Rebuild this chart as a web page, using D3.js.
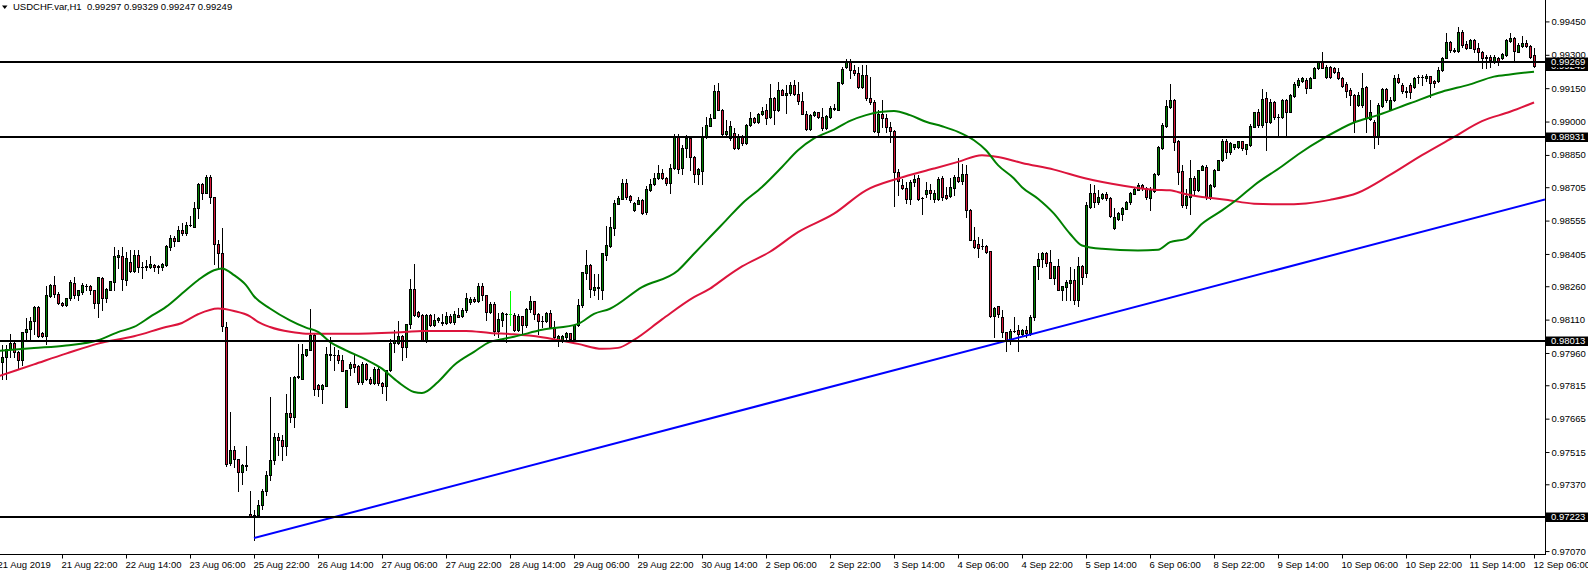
<!DOCTYPE html>
<html><head><meta charset="utf-8">
<script src="https://cdn.jsdelivr.net/npm/d3@7"></script>
<style>
html,body{margin:0;padding:0;background:#fff;overflow:hidden}
svg{display:block}
</style></head><body>
<svg id="chart" width="1588" height="571"></svg>
<script>
// ---- DATA (USDCHF H1) ----
const barOpen = [
0.97942,0.97920,0.97942,0.97977,0.98005,0.97965,0.97930,0.98056,0.98070,0.98103,
0.98167,0.98049,0.98037,0.98215,0.98265,0.98227,0.98185,0.98177,0.98205,0.98275,
0.98220,0.98235,0.98262,0.98260,0.98242,0.98185,0.98299,0.98209,0.98245,0.98280,
0.98392,0.98397,0.98287,0.98367,0.98329,0.98402,0.98347,0.98347,0.98347,0.98355,
0.98347,0.98347,0.98355,0.98437,0.98475,0.98464,0.98512,0.98500,0.98533,0.98527,
0.98610,0.98719,0.98677,0.98749,0.98659,0.98452,0.98410,0.98077,0.97465,0.97522,
0.97482,0.97425,0.97455,0.97237,0.97225,0.97230,0.97277,0.97340,0.97410,0.97480,
0.97582,0.97567,0.97540,0.97689,0.97672,0.97852,0.97845,0.97952,0.97975,0.98042,
0.97815,0.97800,0.97812,0.97954,0.97952,0.97950,0.97927,0.97717,0.97894,0.97912,
0.97900,0.97830,0.97912,0.97845,0.97825,0.97890,0.97825,0.97812,0.97882,0.98005,
0.98005,0.98035,0.97987,0.98089,0.98247,0.98145,0.98130,0.98014,0.98130,0.98085,
0.98107,0.98100,0.98095,0.98128,0.98100,0.98130,0.98125,0.98152,0.98190,0.98204,
0.98192,0.98260,0.98220,0.98142,0.98179,0.98059,0.98110,0.98137,0.98134,0.98130,
0.98064,0.98124,0.98084,0.98159,0.98193,0.98136,0.98106,0.98103,0.98139,0.98076,
0.98016,0.98016,0.98031,0.98049,0.98024,0.98084,0.98177,0.98319,0.98354,0.98244,
0.98256,0.98244,0.98399,0.98439,0.98523,0.98631,0.98654,0.98724,0.98664,0.98604,
0.98631,0.98646,0.98594,0.98691,0.98718,0.98746,0.98770,0.98746,0.98724,0.98793,
0.98931,0.98790,0.98880,0.98928,0.98841,0.98763,0.98778,0.98931,0.98981,0.99018,
0.99138,0.99054,0.98946,0.98924,0.98949,0.98883,0.98934,0.98905,0.98984,0.99018,
0.98999,0.99033,0.99051,0.99021,0.99108,0.99051,0.99141,0.99121,0.99129,0.99163,
0.99123,0.99093,0.99036,0.98968,0.99028,0.99042,0.99021,0.98970,0.99021,0.99063,
0.99054,0.99174,0.99243,0.99271,0.99231,0.99219,0.99156,0.99209,0.99104,0.99089,
0.98954,0.99036,0.99014,0.98976,0.98958,0.98774,0.98714,0.98703,0.98654,0.98729,
0.98746,0.98658,0.98676,0.98691,0.98654,0.98654,0.98746,0.98669,0.98664,0.98703,
0.98751,0.98733,0.98763,0.98601,0.98469,0.98448,0.98443,0.98443,0.98418,0.98128,
0.98169,0.98121,0.98054,0.98019,0.98061,0.98064,0.98046,0.98064,0.98050,0.98120,
0.98353,0.98383,0.98409,0.98367,0.98298,0.98349,0.98241,0.98256,0.98274,0.98286,
0.98196,0.98353,0.98319,0.98616,0.98681,0.98638,0.98658,0.98676,0.98658,0.98520,
0.98564,0.98586,0.98608,0.98638,0.98676,0.98694,0.98713,0.98703,0.98658,0.98688,
0.98763,0.98883,0.98979,0.99066,0.99096,0.98913,0.98778,0.98623,0.98661,0.98748,
0.98691,0.98784,0.98796,0.98658,0.98709,0.98784,0.98826,0.98911,0.98863,0.98886,
0.98886,0.98911,0.98876,0.98894,0.98976,0.99041,0.98984,0.99108,0.98998,0.99088,
0.99021,0.99021,0.99096,0.99044,0.99116,0.99164,0.99182,0.99187,0.99152,0.99197,
0.99239,0.99266,0.99202,0.99247,0.99239,0.99224,0.99197,0.99167,0.99142,0.99119,
0.99074,0.99074,0.99157,0.99011,0.98999,0.98931,0.99071,0.99146,0.99056,0.99096,
0.99194,0.99164,0.99137,0.99164,0.99157,0.99200,0.99202,0.99194,0.99205,0.99182,
0.99182,0.99231,0.99284,0.99356,0.99321,0.99317,0.99404,0.99347,0.99332,0.99366,
0.99329,0.99311,0.99284,0.99291,0.99269,0.99287,0.99284,0.99299,0.99362,0.99377,
0.99314,0.99341,0.99351,0.99341,0.99297];
const barHigh = [
0.97960,0.97995,0.97995,0.98047,0.98010,0.97970,0.98056,0.98119,0.98122,0.98173,
0.98173,0.98055,0.98260,0.98272,0.98305,0.98232,0.98190,0.98205,0.98287,0.98302,
0.98245,0.98275,0.98272,0.98265,0.98245,0.98302,0.98302,0.98250,0.98284,0.98437,
0.98422,0.98437,0.98415,0.98422,0.98422,0.98422,0.98370,0.98377,0.98395,0.98362,
0.98355,0.98365,0.98445,0.98490,0.98485,0.98530,0.98542,0.98550,0.98575,0.98640,
0.98722,0.98725,0.98762,0.98760,0.98662,0.98467,0.98520,0.98098,0.97695,0.97540,
0.97485,0.97460,0.97542,0.97342,0.97255,0.97300,0.97350,0.97430,0.97762,0.97600,
0.97600,0.97590,0.97777,0.97852,0.97855,0.97999,0.98002,0.97980,0.98157,0.98045,
0.97820,0.97820,0.97987,0.98032,0.97987,0.97972,0.97950,0.97882,0.97919,0.97949,
0.97905,0.97919,0.97915,0.97850,0.97897,0.97895,0.97830,0.97882,0.98025,0.98065,
0.98104,0.98040,0.98089,0.98292,0.98362,0.98150,0.98135,0.98135,0.98135,0.98137,
0.98122,0.98137,0.98146,0.98135,0.98149,0.98160,0.98160,0.98230,0.98210,0.98210,
0.98275,0.98275,0.98222,0.98190,0.98190,0.98140,0.98145,0.98140,0.98239,0.98140,
0.98136,0.98126,0.98160,0.98218,0.98195,0.98140,0.98128,0.98145,0.98151,0.98106,
0.98040,0.98042,0.98055,0.98052,0.98087,0.98204,0.98326,0.98421,0.98358,0.98316,
0.98316,0.98410,0.98529,0.98571,0.98646,0.98664,0.98744,0.98744,0.98668,0.98640,
0.98661,0.98650,0.98709,0.98744,0.98769,0.98803,0.98788,0.98750,0.98811,0.98946,
0.98946,0.98894,0.98939,0.98934,0.98845,0.98790,0.98976,0.99021,0.99036,0.99164,
0.99174,0.99058,0.99006,0.99001,0.98969,0.98943,0.98940,0.98990,0.99044,0.99022,
0.99040,0.99066,0.99081,0.99171,0.99110,0.99179,0.99145,0.99163,0.99178,0.99186,
0.99178,0.99133,0.99046,0.99036,0.99046,0.99045,0.99063,0.99028,0.99069,0.99081,
0.99179,0.99243,0.99279,0.99279,0.99254,0.99246,0.99254,0.99254,0.99198,0.99096,
0.99051,0.99096,0.99036,0.98999,0.98960,0.98789,0.98744,0.98729,0.98736,0.98759,
0.98759,0.98661,0.98729,0.98718,0.98691,0.98751,0.98754,0.98706,0.98748,0.98759,
0.98838,0.98811,0.98803,0.98608,0.98526,0.98481,0.98473,0.98446,0.98418,0.98166,
0.98173,0.98151,0.98056,0.98069,0.98121,0.98088,0.98070,0.98080,0.98130,0.98353,
0.98409,0.98413,0.98413,0.98421,0.98352,0.98384,0.98262,0.98286,0.98346,0.98338,
0.98391,0.98355,0.98638,0.98721,0.98713,0.98691,0.98679,0.98684,0.98660,0.98613,
0.98594,0.98616,0.98643,0.98684,0.98703,0.98724,0.98718,0.98706,0.98706,0.98769,
0.98889,0.98994,0.99096,0.99168,0.99103,0.98916,0.98803,0.98698,0.98829,0.98754,
0.98784,0.98803,0.98803,0.98721,0.98788,0.98829,0.98923,0.98923,0.98908,0.98901,
0.98913,0.98913,0.98901,0.98991,0.99044,0.99058,0.99148,0.99133,0.99103,0.99093,
0.99036,0.99100,0.99100,0.99122,0.99179,0.99194,0.99201,0.99194,0.99201,0.99246,
0.99269,0.99314,0.99254,0.99251,0.99246,0.99242,0.99201,0.99179,0.99149,0.99122,
0.99134,0.99217,0.99160,0.99096,0.99005,0.99082,0.99149,0.99149,0.99111,0.99209,
0.99212,0.99172,0.99157,0.99172,0.99201,0.99209,0.99209,0.99212,0.99206,0.99187,
0.99246,0.99291,0.99396,0.99362,0.99329,0.99426,0.99411,0.99362,0.99371,0.99371,
0.99351,0.99317,0.99299,0.99299,0.99299,0.99291,0.99306,0.99371,0.99396,0.99381,
0.99351,0.99386,0.99366,0.99344,0.99329];
const barLow = [
0.97845,0.97845,0.97845,0.97942,0.97942,0.97890,0.97905,0.98017,0.98020,0.98047,
0.98032,0.98032,0.98002,0.98212,0.98212,0.98179,0.98170,0.98170,0.98200,0.98209,
0.98200,0.98227,0.98242,0.98227,0.98160,0.98122,0.98152,0.98190,0.98242,0.98242,
0.98340,0.98245,0.98265,0.98325,0.98325,0.98325,0.98299,0.98335,0.98340,0.98329,
0.98320,0.98335,0.98353,0.98425,0.98440,0.98464,0.98490,0.98490,0.98530,0.98527,
0.98565,0.98650,0.98677,0.98635,0.98362,0.98340,0.98059,0.97450,0.97455,0.97447,
0.97342,0.97372,0.97432,0.97222,0.97120,0.97222,0.97260,0.97320,0.97390,0.97460,
0.97500,0.97480,0.97500,0.97650,0.97627,0.97849,0.97845,0.97945,0.97972,0.97770,
0.97765,0.97735,0.97812,0.97927,0.97882,0.97915,0.97877,0.97717,0.97859,0.97874,
0.97822,0.97822,0.97840,0.97820,0.97822,0.97815,0.97780,0.97747,0.97879,0.97965,
0.98002,0.97927,0.97942,0.98074,0.98125,0.98120,0.98014,0.98010,0.98080,0.98080,
0.98100,0.98085,0.98092,0.98095,0.98092,0.98120,0.98120,0.98145,0.98182,0.98188,
0.98190,0.98197,0.98107,0.98140,0.98040,0.98032,0.98080,0.98010,0.98085,0.98060,
0.98061,0.98051,0.98076,0.98144,0.98111,0.98046,0.98076,0.98098,0.98074,0.98016,
0.97993,0.98010,0.98025,0.98020,0.98020,0.98080,0.98166,0.98294,0.98211,0.98219,
0.98204,0.98204,0.98376,0.98436,0.98488,0.98628,0.98651,0.98654,0.98640,0.98598,
0.98628,0.98583,0.98583,0.98688,0.98715,0.98743,0.98743,0.98713,0.98679,0.98788,
0.98769,0.98766,0.98841,0.98781,0.98728,0.98721,0.98721,0.98928,0.98978,0.99016,
0.99051,0.98939,0.98931,0.98916,0.98878,0.98878,0.98895,0.98900,0.98980,0.98995,
0.98995,0.99030,0.98991,0.99014,0.98988,0.99048,0.99118,0.99039,0.99118,0.99118,
0.99081,0.99033,0.98961,0.98964,0.99025,0.99018,0.98964,0.98966,0.99018,0.99051,
0.99051,0.99171,0.99241,0.99196,0.99209,0.99153,0.99153,0.99099,0.99081,0.98954,
0.98934,0.98976,0.98954,0.98909,0.98619,0.98669,0.98699,0.98634,0.98628,0.98709,
0.98646,0.98586,0.98661,0.98654,0.98639,0.98646,0.98649,0.98654,0.98661,0.98669,
0.98729,0.98721,0.98571,0.98466,0.98433,0.98391,0.98428,0.98409,0.98121,0.98031,
0.98121,0.98034,0.97971,0.98001,0.98054,0.97971,0.98040,0.98030,0.98040,0.98110,
0.98293,0.98346,0.98353,0.98298,0.98271,0.98241,0.98196,0.98196,0.98196,0.98180,
0.98170,0.98271,0.98300,0.98612,0.98616,0.98631,0.98654,0.98649,0.98571,0.98515,
0.98556,0.98556,0.98607,0.98631,0.98673,0.98691,0.98694,0.98653,0.98601,0.98684,
0.98758,0.98878,0.98976,0.99063,0.98871,0.98721,0.98616,0.98613,0.98586,0.98676,
0.98688,0.98781,0.98653,0.98653,0.98706,0.98781,0.98823,0.98838,0.98856,0.98878,
0.98883,0.98871,0.98856,0.98889,0.98974,0.98976,0.98976,0.98871,0.98994,0.99013,
0.98931,0.99015,0.98931,0.99041,0.99111,0.99156,0.99179,0.99127,0.99149,0.99194,
0.99236,0.99239,0.99197,0.99197,0.99217,0.99191,0.99154,0.99112,0.99074,0.98954,
0.99070,0.99067,0.98954,0.99006,0.98879,0.98901,0.99067,0.99089,0.99052,0.99092,
0.99172,0.99127,0.99112,0.99107,0.99152,0.99172,0.99164,0.99182,0.99112,0.99157,
0.99179,0.99227,0.99284,0.99314,0.99314,0.99311,0.99336,0.99326,0.99329,0.99314,
0.99276,0.99242,0.99242,0.99246,0.99261,0.99254,0.99281,0.99296,0.99356,0.99272,
0.99311,0.99336,0.99336,0.99287,0.99247];
const barClose = [
0.97920,0.97942,0.97977,0.98005,0.97965,0.97930,0.98056,0.98070,0.98103,0.98167,
0.98037,0.98037,0.98220,0.98265,0.98227,0.98185,0.98175,0.98205,0.98278,0.98220,
0.98242,0.98265,0.98260,0.98242,0.98185,0.98302,0.98209,0.98247,0.98283,0.98395,
0.98400,0.98292,0.98385,0.98329,0.98402,0.98347,0.98345,0.98350,0.98359,0.98347,
0.98350,0.98359,0.98440,0.98475,0.98464,0.98512,0.98500,0.98535,0.98535,0.98610,
0.98719,0.98677,0.98749,0.98659,0.98452,0.98410,0.98080,0.97462,0.97522,0.97485,
0.97425,0.97457,0.97453,0.97225,0.97230,0.97277,0.97340,0.97410,0.97480,0.97582,
0.97567,0.97540,0.97692,0.97672,0.97852,0.97855,0.97957,0.97977,0.98042,0.97800,
0.97800,0.97815,0.97954,0.97952,0.97950,0.97927,0.97879,0.97882,0.97912,0.97897,
0.97830,0.97912,0.97845,0.97825,0.97890,0.97825,0.97812,0.97882,0.98005,0.98020,
0.98035,0.97987,0.98089,0.98247,0.98130,0.98127,0.98014,0.98130,0.98085,0.98110,
0.98119,0.98095,0.98128,0.98100,0.98134,0.98122,0.98152,0.98209,0.98204,0.98192,
0.98260,0.98220,0.98142,0.98179,0.98059,0.98112,0.98140,0.98134,0.98134,0.98062,
0.98124,0.98084,0.98159,0.98193,0.98136,0.98106,0.98103,0.98139,0.98076,0.98034,
0.98038,0.98038,0.98049,0.98024,0.98084,0.98177,0.98324,0.98354,0.98249,0.98256,
0.98253,0.98409,0.98444,0.98526,0.98636,0.98656,0.98724,0.98661,0.98649,0.98634,
0.98646,0.98589,0.98696,0.98721,0.98745,0.98770,0.98746,0.98724,0.98793,0.98931,
0.98788,0.98882,0.98928,0.98841,0.98766,0.98786,0.98934,0.98984,0.99018,0.99138,
0.99054,0.98946,0.98958,0.98979,0.98883,0.98934,0.98905,0.98984,0.99018,0.98999,
0.99036,0.99048,0.99018,0.99108,0.99054,0.99144,0.99121,0.99130,0.99163,0.99123,
0.99093,0.99036,0.98968,0.99028,0.99042,0.99021,0.98970,0.99025,0.99063,0.99058,
0.99176,0.99238,0.99271,0.99231,0.99219,0.99156,0.99209,0.99104,0.99089,0.98958,
0.99036,0.99014,0.98976,0.98958,0.98774,0.98733,0.98703,0.98654,0.98729,0.98741,
0.98651,0.98656,0.98691,0.98679,0.98679,0.98744,0.98661,0.98658,0.98706,0.98751,
0.98733,0.98763,0.98601,0.98469,0.98436,0.98433,0.98441,0.98413,0.98128,0.98163,
0.98136,0.98054,0.98016,0.98061,0.98059,0.98046,0.98064,0.98050,0.98120,0.98353,
0.98383,0.98409,0.98364,0.98298,0.98349,0.98241,0.98259,0.98277,0.98286,0.98196,
0.98353,0.98301,0.98623,0.98681,0.98638,0.98661,0.98676,0.98658,0.98576,0.98571,
0.98589,0.98613,0.98638,0.98679,0.98698,0.98713,0.98703,0.98661,0.98691,0.98766,
0.98886,0.98983,0.99069,0.99096,0.98908,0.98773,0.98623,0.98664,0.98748,0.98691,
0.98781,0.98799,0.98660,0.98713,0.98784,0.98826,0.98911,0.98863,0.98904,0.98898,
0.98911,0.98883,0.98898,0.98979,0.99041,0.98984,0.99103,0.98998,0.99088,0.99021,
0.99019,0.99096,0.99044,0.99119,0.99171,0.99186,0.99197,0.99152,0.99197,0.99242,
0.99266,0.99242,0.99247,0.99202,0.99221,0.99194,0.99161,0.99139,0.99119,0.98999,
0.99119,0.99152,0.99014,0.99044,0.98931,0.99074,0.99146,0.99096,0.99096,0.99194,
0.99176,0.99137,0.99135,0.99131,0.99197,0.99198,0.99200,0.99205,0.99172,0.99172,
0.99231,0.99284,0.99356,0.99321,0.99319,0.99404,0.99344,0.99332,0.99366,0.99326,
0.99311,0.99287,0.99291,0.99276,0.99291,0.99269,0.99302,0.99366,0.99377,0.99317,
0.99344,0.99351,0.99341,0.99291,0.99249];

// Moving averages: [bar index, price]
const fastMA = [[0,0.97969],[9,0.97982],[17,0.97994],[25,0.98017],[30,0.98054],[34,0.98077],[38,0.98122],[42,0.98167],[46,0.98227],[50,0.98287],[54,0.98332],[56,0.98340],[59,0.98310],[62,0.98265],[64,0.98215],[68,0.98160],[73,0.98107],[77,0.98074],[80,0.98055],[83,0.98010],[87,0.97972],[92,0.97930],[96,0.97890],[100,0.97830],[104,0.97785],[106,0.97780],[110,0.97830],[114,0.97905],[119,0.97965],[123,0.98010],[126,0.98022],[129,0.98033],[136,0.98064],[145,0.98091],[149,0.98136],[153,0.98159],[161,0.98256],[170,0.98331],[174,0.98406],[178,0.98481],[182,0.98556],[186,0.98631],[191,0.98706],[196,0.98796],[200,0.98871],[204,0.98924],[209,0.98964],[213,0.99003],[217,0.99029],[221,0.99044],[224,0.99048],[228,0.99029],[232,0.98999],[236,0.98979],[240,0.98954],[244,0.98916],[247,0.98871],[250,0.98804],[254,0.98744],[256,0.98705],[260,0.98653],[264,0.98586],[268,0.98496],[271,0.98443],[276,0.98428],[285,0.98421],[290,0.98424],[293,0.98458],[297,0.98473],[301,0.98541],[306,0.98601],[310,0.98653],[314,0.98713],[321,0.98799],[325,0.98852],[332,0.98931],[339,0.98996],[345,0.99029],[353,0.99082],[361,0.99134],[368,0.99167],[374,0.99202],[378,0.99212],[384,0.99224]];
const slowMA = [[0,0.97855],[9,0.97909],[17,0.97957],[25,0.98002],[34,0.98035],[42,0.98077],[46,0.98095],[50,0.98134],[55,0.98160],[59,0.98149],[63,0.98125],[65,0.98100],[68,0.98077],[73,0.98055],[77,0.98047],[89,0.98047],[102,0.98055],[106,0.98059],[117,0.98059],[123,0.98050],[129,0.98044],[136,0.98031],[145,0.98001],[151,0.97979],[155,0.97983],[159,0.98019],[166,0.98111],[174,0.98211],[178,0.98249],[182,0.98301],[186,0.98349],[193,0.98415],[200,0.98503],[209,0.98586],[217,0.98691],[225,0.98744],[234,0.98789],[240,0.98819],[246,0.98849],[250,0.98841],[256,0.98814],[264,0.98784],[272,0.98744],[281,0.98713],[289,0.98694],[293,0.98691],[297,0.98673],[301,0.98661],[307,0.98649],[314,0.98631],[321,0.98628],[327,0.98632],[333,0.98648],[340,0.98680],[348,0.98760],[356,0.98849],[364,0.98931],[371,0.99002],[378,0.99044],[384,0.99086]];

const levelPrices = [0.99269, 0.98931, 0.98013, 0.97223];
const trendBars = [64, 386.75];
const trendPrices = [0.97128, 0.98650];
const priceTicks = [0.99450,0.99300,0.99150,0.99000,0.98850,0.98705,0.98555,0.98405,0.98260,0.98110,0.97960,0.97815,0.97665,0.97515,0.97370,0.97220,0.97070];
const timeLabelBars = [0,16,32,48,64,80,96,112,128,144,160,176,192,208,224,240,256,272,288,304,320,336,352,368,384];
const timeLabels = ["21 Aug 2019","21 Aug 22:00","22 Aug 14:00","23 Aug 06:00","25 Aug 22:00","26 Aug 14:00","27 Aug 06:00","27 Aug 22:00","28 Aug 14:00","29 Aug 06:00","29 Aug 22:00","30 Aug 14:00","2 Sep 06:00","2 Sep 22:00","3 Sep 14:00","4 Sep 06:00","4 Sep 22:00","5 Sep 14:00","6 Sep 06:00","8 Sep 22:00","9 Sep 14:00","10 Sep 06:00","10 Sep 22:00","11 Sep 14:00","12 Sep 06:00"];
const titleText = "USDCHF.var,H1  0.99297 0.99329 0.99247 0.99249";

// ---- DRAWING ----
const W = 1588, H = 571, plotRight = 1545, plotBottom = 554;
const FONT = "'Liberation Sans', Arial, sans-serif";
const BULL = "#008000", BEAR = "#d8183a", DOJI = "#00ff00";
const svg = d3.select("#chart");
svg.append("rect").attr("width", W).attr("height", H).attr("fill", "#fff");

const x = d3.scaleLinear().domain([0, 384]).range([-2, 1534]);
const y = d3.scaleLinear().domain([0.97223, 0.99269]).range([517, 61.7]);

svg.append("defs").append("clipPath").attr("id", "plotClip")
  .append("rect").attr("x", 0).attr("y", 0).attr("width", plotRight).attr("height", plotBottom);
const plot = svg.append("g").attr("clip-path", "url(#plotClip)");

const bars = d3.range(barClose.length).map(i => ({i, o: barOpen[i], h: barHigh[i], l: barLow[i], c: barClose[i]}));
const isDoji = d => Math.abs(d.o - d.c) < 1e-9;

const cg = plot.append("g");
cg.selectAll("line.wick").data(bars).join("line").attr("class", "wick")
  .attr("x1", d => x(d.i) + 0.5).attr("x2", d => x(d.i) + 0.5)
  .attr("y1", d => Math.round(y(d.h))).attr("y2", d => Math.round(y(d.l)) + 1)
  .attr("stroke", d => isDoji(d) ? DOJI : "#000").attr("stroke-width", 1);

bars.forEach(d => {
  const cx = x(d.i);
  const t = Math.round(y(Math.max(d.o, d.c))), b = Math.round(y(Math.min(d.o, d.c)));
  if (isDoji(d) || b - t < 1) {
    cg.append("line").attr("x1", cx - 1).attr("x2", cx + 2).attr("y1", t + 0.5).attr("y2", t + 0.5)
      .attr("stroke", isDoji(d) ? DOJI : "#000").attr("stroke-width", 1);
  } else {
    cg.append("rect").attr("x", cx - 0.5).attr("y", t + 0.5).attr("width", 2).attr("height", b - t)
      .attr("fill", d.c > d.o ? BULL : BEAR).attr("stroke", "#000").attr("stroke-width", 1);
  }
});

const maLine = d3.line().x(d => x(d[0])).y(d => y(d[1])).curve(d3.curveMonotoneX);
plot.append("path").attr("d", maLine(slowMA)).attr("fill", "none").attr("stroke", "#dc143c").attr("stroke-width", 2);
plot.append("path").attr("d", maLine(fastMA)).attr("fill", "none").attr("stroke", "#008000").attr("stroke-width", 2);

plot.append("line").attr("x1", x(trendBars[0])).attr("y1", y(trendPrices[0]))
  .attr("x2", x(trendBars[1])).attr("y2", y(trendPrices[1]))
  .attr("stroke", "#0000ff").attr("stroke-width", 2);

plot.selectAll("line.level").data(levelPrices).join("line").attr("class", "level")
  .attr("x1", 0).attr("x2", plotRight)
  .attr("y1", d => Math.round(y(d))).attr("y2", d => Math.round(y(d)))
  .attr("stroke", "#000").attr("stroke-width", 2);

// axes
const yAxis = d3.axisRight(y).tickValues(priceTicks).tickSize(4).tickPadding(2).tickFormat(d => d.toFixed(5));
const gy = svg.append("g").attr("transform", `translate(${plotRight + 0.5},0)`).call(yAxis);
gy.select(".domain").remove();
gy.attr("font-family", FONT).attr("font-size", 9.5);
gy.selectAll("text").attr("fill", "#000");

const xAxis = d3.axisBottom(x).tickValues(timeLabelBars).tickSize(4).tickFormat((d, i) => timeLabels[i]);
const gx = svg.append("g").attr("transform", `translate(0,${plotBottom + 0.5})`).call(xAxis);
gx.select(".domain").remove();
gx.attr("font-family", FONT).attr("font-size", 9.5);
gx.selectAll("text").attr("text-anchor", "start").attr("x", -1).attr("y", 13).attr("dy", 0).attr("fill", "#000");

svg.append("line").attr("x1", plotRight + 0.5).attr("x2", plotRight + 0.5).attr("y1", 0).attr("y2", plotBottom + 1).attr("stroke", "#000");
svg.append("line").attr("x1", 0).attr("x2", plotRight + 1).attr("y1", plotBottom + 0.5).attr("y2", plotBottom + 0.5).attr("stroke", "#000");

// price marks on axis (bid first, then levels on top)
const marks = [barClose[barClose.length - 1]].concat(levelPrices);
const mg = svg.append("g").attr("font-family", FONT).attr("font-size", 9.5);
marks.forEach(p => {
  const yy = Math.round(y(p));
  mg.append("rect").attr("x", plotRight + 1).attr("y", yy - 4.5).attr("width", W - plotRight - 1).attr("height", 9.5).attr("fill", "#000");
  mg.append("text").attr("x", plotRight + 6).attr("y", yy).attr("dy", "0.35em").attr("fill", "#fff").text(p.toFixed(5));
});

// title
svg.append("path").attr("d", "M2,5.5 L7.5,5.5 L4.75,9 Z").attr("fill", "#000");
svg.append("text").attr("x", 13).attr("y", 10).attr("font-family", FONT).attr("font-size", 9.5)
  .attr("fill", "#000").style("white-space", "pre").text(titleText);
</script>
</body></html>
